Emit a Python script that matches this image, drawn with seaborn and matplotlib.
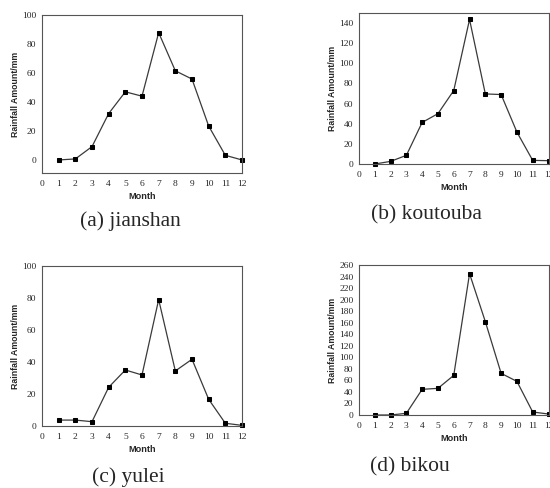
import seaborn as sns
import matplotlib.pyplot as plt
import pandas as pd

# monthly rainfall (mm)
months = list(range(1, 13))
jianshan = [0, 0.7, 9.2, 32, 47, 44, 87.8, 61.5, 55.8, 23.4, 3.2, 0]
koutouba = [0, 2.6, 8.6, 41.3, 50, 73, 143.6, 69.6, 69, 31.7, 3.6, 3.3]
yulei = [3.7, 3.7, 2.7, 24.2, 35, 31.9, 79, 34.4, 41.7, 16.7, 1.7, 0.4]
bikou = [0, 0, 2.9, 44.5, 46.2, 68.7, 245, 161.8, 72.2, 58.3, 5.2, 1.7]
captions = ["(a) jianshan", "(b) koutouba", "(c) yulei", "(d) bikou"]

sns.set_style("white")
plt.rcParams['font.family'] = ['Liberation Serif', 'DejaVu Serif']

W, H = 550, 488
fig = plt.figure(figsize=(5.5, 4.88), dpi=100)


def px_axes(left, top, right, bottom):
    return fig.add_axes([left / W, 1 - bottom / H, (right - left) / W, (bottom - top) / H])


panels = [
    (jianshan, (42, 15, 242, 173), (-9, 100), range(0, 101, 20)),
    (koutouba, (359, 13, 548.5, 164), (0, 150), range(0, 141, 20)),
    (yulei, (42, 266, 242, 426), (0, 100), range(0, 101, 20)),
    (bikou, (359, 265, 548.5, 415), (0, 260), range(0, 261, 20)),
]

for vals, box, ylim, yticks in panels:
    ax = px_axes(*box)
    df = pd.DataFrame({"Month": months, "Rain": vals})
    sns.lineplot(data=df, x="Month", y="Rain", ax=ax, color="#3a3a3a", lw=0.9,
                 marker="s", markersize=3, markeredgecolor="black",
                 markerfacecolor="black", clip_on=False)
    ax.set_xlim(0, 12)
    ax.set_ylim(*ylim)
    ax.set_xticks(range(0, 13))
    ax.set_yticks(list(yticks))
    ax.tick_params(axis='x', direction='inout', length=4, width=0.6, labelsize=6.8,
                   color='#444444', pad=3)
    ax.tick_params(axis='y', direction='out', length=2, width=0.6, labelsize=6.8,
                   color='#444444', pad=2)
    for s in ax.spines.values():
        s.set_color('#555555')
        s.set_linewidth(0.8)
    ax.set_xlabel("Month", family='Liberation Sans', fontweight='bold', fontsize=6.6, labelpad=3)
    ax.set_ylabel("Rainfall Amount/mm", family='Liberation Sans', fontweight='bold',
                  fontsize=6.3, labelpad=1.5)

cap_pos = [(130, 221), (426, 215), (128, 477), (410, 467)]
for txt, (x, y) in zip(captions, cap_pos):
    fig.text(x / W, 1 - y / H, txt, ha='center', va='center', fontsize=15.5,
             family='Liberation Serif')

fig.savefig("out.png", dpi=100)
